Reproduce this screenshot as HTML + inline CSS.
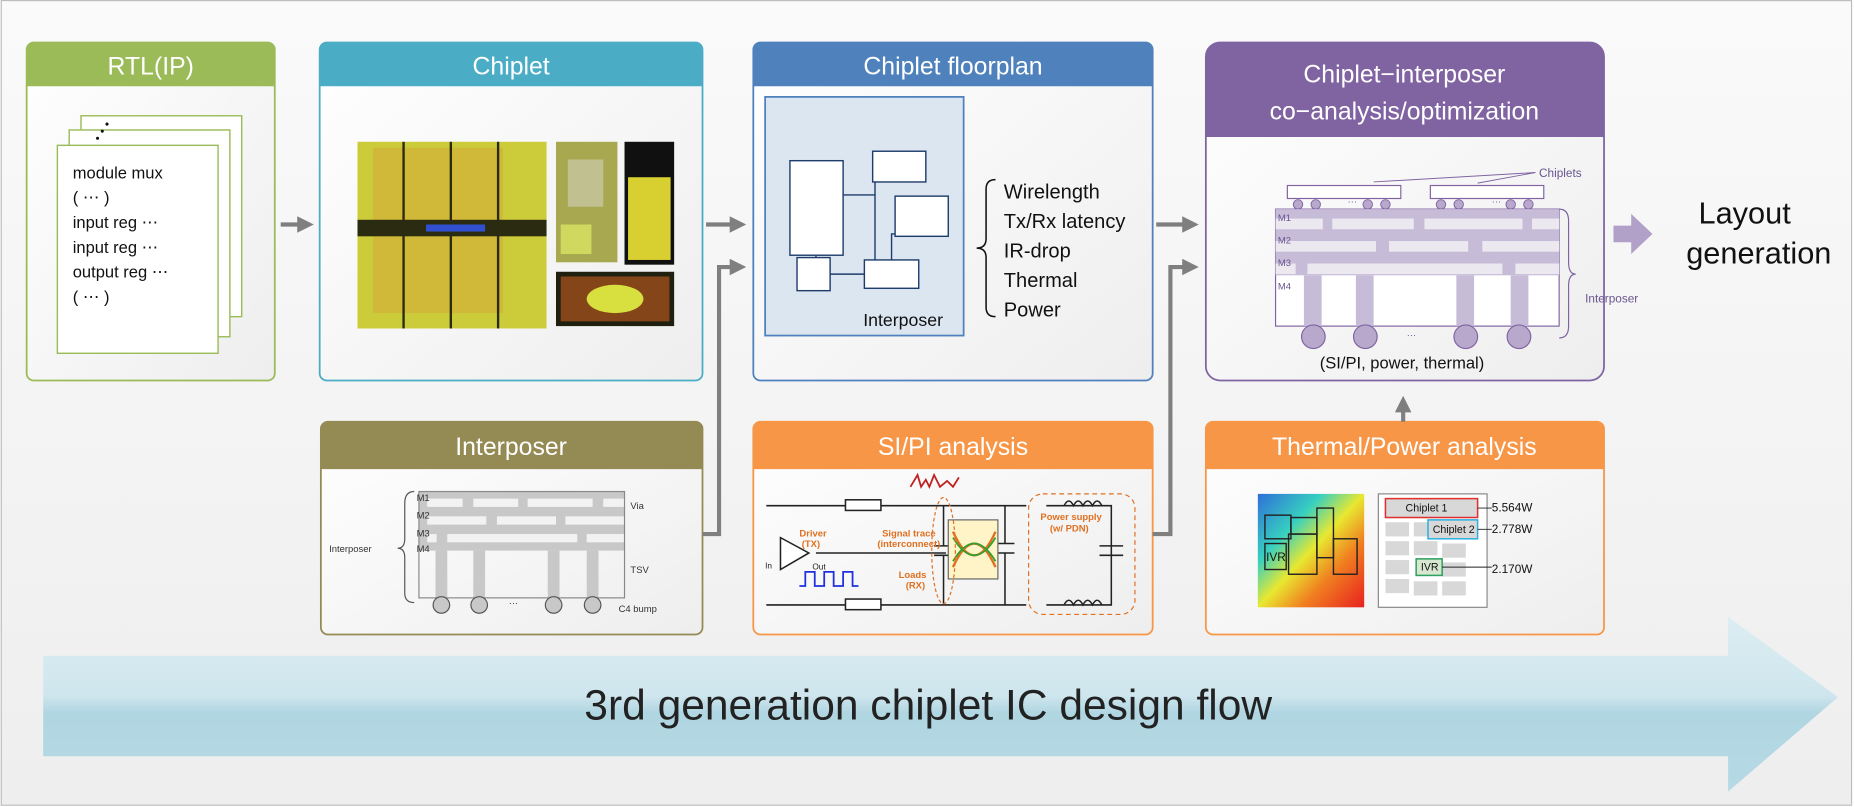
<!DOCTYPE html>
<html><head><meta charset="utf-8"><style>
html,body{margin:0;padding:0;background:#fff;}
svg{display:block;font-family:"Liberation Sans",sans-serif;}
</style></head><body>
<svg width="1854" height="807" viewBox="0 0 1568 683" xmlns="http://www.w3.org/2000/svg">
<defs>
<linearGradient id="bg" x1="0" y1="0" x2="0" y2="1"><stop offset="0" stop-color="#fafafa"/><stop offset="1" stop-color="#eeeeee"/></linearGradient>
<linearGradient id="box" x1="0" y1="0" x2="1" y2="1"><stop offset="0" stop-color="#ffffff"/><stop offset="1" stop-color="#eeeeee"/></linearGradient>
<linearGradient id="flow" x1="0" y1="0" x2="0" y2="1"><stop offset="0" stop-color="#dcedf2"/><stop offset="0.45" stop-color="#cfe6ee"/><stop offset="0.55" stop-color="#b0d6e2"/><stop offset="1" stop-color="#b6dae5"/></linearGradient>
<linearGradient id="heat" x1="0" y1="0" x2="1" y2="1"><stop offset="0" stop-color="#2f6fd8"/><stop offset="0.3" stop-color="#37d0c0"/><stop offset="0.5" stop-color="#e8e830"/><stop offset="0.7" stop-color="#f08020"/><stop offset="1" stop-color="#e82020"/></linearGradient>
<marker id="ah" markerWidth="4" markerHeight="4" refX="2" refY="2" orient="auto"><path d="M0,0 L4,2 L0,4z" fill="#7f7f7f"/></marker>
</defs>
<rect x="0.5" y="0.5" width="1566" height="681" fill="url(#bg)" stroke="#bdbdbd"/>

<!-- flow arrow -->
<path d="M36,555 H1462 V522 L1555,590 L1462,670 V640 H36z" fill="url(#flow)"/>
<text x="785" y="609" font-size="36" text-anchor="middle" fill="#222">3rd generation chiplet IC design flow</text>

<!-- boxes -->
<g stroke-width="1.5">
<rect x="22" y="36" width="210" height="286" rx="6" fill="url(#box)" stroke="#9bbb59"/>
<path d="M22,73 V42 a6,6 0 0 1 6,-6 H226 a6,6 0 0 1 6,6 V73z" fill="#9bbb59"/>
<rect x="270" y="36" width="324" height="286" rx="6" fill="url(#box)" stroke="#4bacc6"/>
<path d="M270,73 V42 a6,6 0 0 1 6,-6 H588 a6,6 0 0 1 6,6 V73z" fill="#4bacc6"/>
<rect x="637" y="36" width="338" height="286" rx="6" fill="url(#box)" stroke="#4f81bd"/>
<path d="M637,73 V42 a6,6 0 0 1 6,-6 H969 a6,6 0 0 1 6,6 V73z" fill="#4f81bd"/>
<rect x="1020" y="36" width="337" height="286" rx="12" fill="url(#box)" stroke="#8064a2"/>
<path d="M1020,116 V48 a12,12 0 0 1 12,-12 H1345 a12,12 0 0 1 12,12 V116z" fill="#8064a2"/>
<rect x="271" y="357" width="323" height="180" rx="6" fill="url(#box)" stroke="#948a54"/>
<path d="M271,397 V363 a6,6 0 0 1 6,-6 H588 a6,6 0 0 1 6,6 V397z" fill="#948a54"/>
<rect x="637" y="357" width="338" height="180" rx="6" fill="url(#box)" stroke="#f79646"/>
<path d="M637,397 V363 a6,6 0 0 1 6,-6 H969 a6,6 0 0 1 6,6 V397z" fill="#f79646"/>
<rect x="1020" y="357" width="337" height="180" rx="6" fill="url(#box)" stroke="#f79646"/>
<path d="M1020,397 V363 a6,6 0 0 1 6,-6 H1351 a6,6 0 0 1 6,6 V397z" fill="#f79646"/>
</g>
<g fill="#fff" font-size="21" text-anchor="middle">
<text x="127" y="63">RTL(IP)</text>
<text x="432" y="63">Chiplet</text>
<text x="806" y="63">Chiplet floorplan</text>
<text x="1188" y="70">Chiplet−interposer</text>
<text x="1188" y="101">co−analysis/optimization</text>
<text x="432" y="385">Interposer</text>
<text x="806" y="385">SI/PI analysis</text>
<text x="1188" y="385">Thermal/Power analysis</text>
</g>

<!-- RTL pages -->
<g stroke="#9bbb59" stroke-width="1.2" fill="#fff">
<rect x="68" y="98" width="136" height="170"/>
<rect x="58" y="110" width="136" height="175"/>
<rect x="48" y="123" width="136" height="176"/>
</g>
<g fill="#111" font-size="14">
<text x="61" y="151">module mux</text><text x="61" y="172">( ⋯ )</text><text x="61" y="193">input reg ⋯</text><text x="61" y="214">input reg ⋯</text><text x="61" y="235">output reg ⋯</text><text x="61" y="256">( ⋯ )</text>
<circle cx="82" cy="117" r="1.3"/><circle cx="86" cy="111" r="1.3"/><circle cx="90" cy="105" r="1.3"/>
</g>

<!-- chiplet die photos -->
<rect x="302" y="120" width="160" height="158" fill="#cccc3a"/>
<rect x="315" y="125" width="110" height="140" fill="#e07030" opacity="0.2"/>
<g fill="#2b2b12"><rect x="302" y="186" width="160" height="14"/><rect x="340" y="120" width="2" height="158"/><rect x="380" y="120" width="2" height="158"/><rect x="420" y="120" width="2" height="158"/></g>
<rect x="360" y="190" width="50" height="6" fill="#3050d0"/>
<rect x="470" y="120" width="52" height="102" fill="#a8a850"/>
<rect x="480" y="135" width="30" height="40" fill="#c0c090"/>
<rect x="474" y="190" width="26" height="25" fill="#d0d860"/>
<rect x="528" y="120" width="42" height="104" fill="#101010"/>
<rect x="531" y="150" width="36" height="70" fill="#d8d030"/>
<rect x="470" y="230" width="100" height="46" fill="#202010"/>
<rect x="474" y="234" width="92" height="38" fill="#c86020" opacity="0.6"/>
<ellipse cx="520" cy="253" rx="24" ry="12" fill="#d8e040"/>

<!-- floorplan -->
<rect x="647" y="82" width="168" height="202" fill="#dce6f1" stroke="#4f81bd" stroke-width="1.5"/>
<g fill="#fff" stroke="#1f3d6b" stroke-width="1.2">
<rect x="668" y="136" width="45" height="80"/><rect x="738" y="128" width="45" height="26"/><rect x="757" y="166" width="45" height="34"/><rect x="674" y="218" width="28" height="28"/><rect x="731" y="220" width="46" height="24"/>
</g>
<g stroke="#1f3d6b" stroke-width="1.2" fill="none">
<path d="M713,165 H740 V154 M740,165 V220 M754,220 V198 H757 M690,216 V218 M702,232 H731"/>
</g>
<text x="730" y="276" font-size="15" fill="#111">Interposer</text>
<path d="M842,152 q-8,0 -8,8 v42 q0,8 -8,8 q8,0 8,8 v42 q0,8 8,8" fill="none" stroke="#111" stroke-width="1.3"/>
<g font-size="17" fill="#111"><text x="849" y="168">Wirelength</text><text x="849" y="193">Tx/Rx latency</text><text x="849" y="218">IR-drop</text><text x="849" y="243">Thermal</text><text x="849" y="268">Power</text></g>

<!-- co-analysis -->
<g stroke="#8064a2" stroke-width="1" fill="#fff"><rect x="1089" y="157" width="96" height="11"/><rect x="1210" y="157" width="96" height="11"/></g>
<g fill="#b8a8cc" stroke="#8064a2" stroke-width="0.8"><circle cx="1098" cy="173" r="4"/><circle cx="1113" cy="173" r="4"/><circle cx="1157" cy="173" r="4"/><circle cx="1172" cy="173" r="4"/><circle cx="1219" cy="173" r="4"/><circle cx="1234" cy="173" r="4"/><circle cx="1278" cy="173" r="4"/><circle cx="1293" cy="173" r="4"/></g>
<rect x="1079" y="177" width="240" height="99" fill="#fff" stroke="#8064a2"/>
<rect x="1079" y="177" width="240" height="56" fill="#c7bcd8"/>
<g fill="#ece8f0"><rect x="1079" y="185" width="40" height="9"/><rect x="1127" y="185" width="69" height="9"/><rect x="1205" y="185" width="83" height="9"/><rect x="1296" y="185" width="23" height="9"/><rect x="1079" y="204" width="85" height="9"/><rect x="1175" y="204" width="67" height="9"/><rect x="1254" y="204" width="65" height="9"/><rect x="1079" y="223" width="17" height="9"/><rect x="1106" y="223" width="165" height="9"/><rect x="1282" y="223" width="37" height="9"/></g>
<g fill="#c7bcd8"><rect x="1103" y="233" width="15" height="43"/><rect x="1147" y="233" width="15" height="43"/><rect x="1232" y="233" width="15" height="43"/><rect x="1278" y="233" width="15" height="43"/></g>
<g fill="#b8a8cc" stroke="#8064a2"><circle cx="1111" cy="285" r="10"/><circle cx="1155" cy="285" r="10"/><circle cx="1240" cy="285" r="10"/><circle cx="1285" cy="285" r="10"/></g>
<g font-size="8" fill="#6a5590"><text x="1081" y="187">M1</text><text x="1081" y="206">M2</text><text x="1081" y="225">M3</text><text x="1081" y="245">M4</text><text x="1190" y="286">···</text><text x="1140" y="173">···</text><text x="1262" y="173">···</text></g>
<text x="1302" y="150" font-size="10" fill="#6a5590">Chiplets</text>
<path d="M1299,146 L1162,154 M1299,146 L1250,155" stroke="#8064a2" stroke-width="0.8"/>
<path d="M1319,177 q8,0 8,10 v35 q0,10 6,10 q-6,0 -6,10 v34 q0,10 -8,10" fill="none" stroke="#8064a2"/>
<text x="1341" y="256" font-size="10" fill="#6a5590">Interposer</text>
<text x="1186" y="312" font-size="14" fill="#111" text-anchor="middle">(SI/PI, power, thermal)</text>

<!-- interposer diagram -->
<rect x="354" y="416" width="174" height="50" fill="#c8c8c8"/>
<g fill="#f2f2f2"><rect x="361" y="422" width="30" height="7"/><rect x="400" y="422" width="38" height="7"/><rect x="446" y="422" width="55" height="7"/><rect x="510" y="422" width="18" height="7"/><rect x="361" y="437" width="50" height="7"/><rect x="420" y="437" width="50" height="7"/><rect x="478" y="437" width="50" height="7"/><rect x="361" y="452" width="8" height="7"/><rect x="378" y="452" width="110" height="7"/><rect x="496" y="452" width="32" height="7"/></g>
<g fill="#c8c8c8"><rect x="368" y="466" width="10" height="40"/><rect x="400" y="466" width="10" height="40"/><rect x="463" y="466" width="10" height="40"/><rect x="496" y="466" width="10" height="40"/></g>
<rect x="354" y="416" width="174" height="90" fill="none" stroke="#888"/>
<g fill="#c8c8c8" stroke="#555"><circle cx="373" cy="512" r="7"/><circle cx="405" cy="512" r="7"/><circle cx="468" cy="512" r="7"/><circle cx="501" cy="512" r="7"/></g>
<g font-size="8" fill="#333"><text x="352" y="424">M1</text><text x="352" y="439">M2</text><text x="352" y="454">M3</text><text x="352" y="467">M4</text><text x="533" y="431">Via</text><text x="533" y="485">TSV</text><text x="523" y="518">C4 bump</text><text x="430" y="513">···</text><text x="278" y="467">Interposer</text></g>
<path d="M350,416 q-8,0 -8,10 v30 q0,8 -6,8 q6,0 6,8 v30 q0,8 8,8" fill="none" stroke="#555"/>

<!-- SI/PI -->
<g stroke="#222" stroke-width="1.3" fill="none">
<path d="M648,428 H868 M648,512 H868 M690,468 H800 M885,428 H940 V512 H885"/>
<path d="M660,455 L660,482 L684,468z" fill="#fff"/>
<rect x="715" y="423" width="30" height="9" fill="#fff"/><rect x="715" y="507" width="30" height="9" fill="#fff"/>
<path d="M798,428 V462 M790,462 H806 M790,470 H806 M798,470 V512 M930,462 H950 M930,470 H950 M850,428 V460 M842,460 H858 M842,468 H858 M850,468 V512"/>
<path d="M900,428 q4,-8 8,0 q4,-8 8,0 q4,-8 8,0 q4,-8 8,0 M900,512 q4,-8 8,0 q4,-8 8,0 q4,-8 8,0 q4,-8 8,0"/>
</g>
<path d="M676,496 h5 v-12 h8 v12 h8 v-12 h8 v12 h8 v-12 h8 v12 h5" fill="none" stroke="#2030e0" stroke-width="1.5"/>
<rect x="802" y="440" width="42" height="50" fill="#fff3c8" stroke="#666"/>
<path d="M806,450 q18,40 36,0 M806,480 q18,-40 36,0" stroke="#e07020" stroke-width="2" fill="none"/>
<path d="M806,455 q18,30 36,0 M806,475 q18,-30 36,0" stroke="#30a030" stroke-width="1.5" fill="none"/>
<ellipse cx="798" cy="466" rx="10" ry="45" fill="none" stroke="#e07020" stroke-dasharray="3,2"/>
<rect x="870" y="418" width="90" height="102" rx="12" fill="none" stroke="#e07020" stroke-dasharray="4,3"/>
<path d="M770,412 l6,-10 l3,10 l4,-6 l3,6 l4,-10 l5,10 l6,-5 l5,5 l5,-8" stroke="#c02020" stroke-width="1.5" fill="none"/>
<g font-size="8" fill="#e07020" font-weight="bold"><text x="676" y="454">Driver</text><text x="678" y="463">(TX)</text><text x="746" y="454">Signal trace</text><text x="742" y="463">(interconnect)</text><text x="760" y="489">Loads</text><text x="766" y="498">(RX)</text><text x="880" y="440">Power supply</text><text x="888" y="450">(w/ PDN)</text></g>
<g font-size="7" fill="#222"><text x="687" y="482">Out</text><text x="647" y="481">In</text></g>

<!-- thermal -->
<rect x="1064" y="418" width="90" height="96" fill="url(#heat)"/>
<g fill="none" stroke="#222" stroke-width="1.2"><rect x="1070" y="436" width="22" height="20"/><rect x="1092" y="438" width="22" height="14"/><rect x="1090" y="452" width="24" height="34"/><rect x="1114" y="430" width="14" height="42"/><rect x="1070" y="460" width="18" height="22"/><rect x="1128" y="456" width="20" height="30"/></g>
<text x="1071" y="475" font-size="10" fill="#111">IVR</text>
<rect x="1166" y="418" width="92" height="96" fill="#fff" stroke="#888"/>
<g fill="#d8d8d8"><rect x="1172" y="442" width="20" height="12"/><rect x="1196" y="442" width="14" height="12"/><rect x="1172" y="458" width="20" height="12"/><rect x="1196" y="458" width="20" height="12"/><rect x="1220" y="460" width="20" height="12"/><rect x="1172" y="474" width="20" height="12"/><rect x="1172" y="490" width="20" height="12"/><rect x="1220" y="476" width="20" height="12"/><rect x="1220" y="492" width="20" height="12"/><rect x="1196" y="492" width="20" height="12"/></g>
<rect x="1172" y="422" width="78" height="16" fill="#d8d8d8" stroke="#e03030" stroke-width="1.3"/>
<rect x="1208" y="440" width="42" height="16" fill="#d8d8d8" stroke="#30b0e0" stroke-width="1.3"/>
<rect x="1198" y="473" width="22" height="14" fill="#d8e8d0" stroke="#30a060" stroke-width="1.3"/>
<g font-size="9" fill="#111"><text x="1189" y="433">Chiplet 1</text><text x="1212" y="451">Chiplet 2</text><text x="1202" y="483">IVR</text></g>
<g font-size="10" fill="#111"><text x="1262" y="433">5.564W</text><text x="1262" y="451">2.778W</text><text x="1262" y="485">2.170W</text></g>
<g stroke="#222" stroke-width="0.8"><path d="M1250,430 H1262 M1250,448 H1262 M1220,480 H1262"/></g>

<!-- connectors -->
<g stroke="#7f7f7f" stroke-width="3.5" fill="none" marker-end="url(#ah)">
<path d="M237,190 H258"/>
<path d="M597,190 H624"/>
<path d="M594,452 H608 V226 H624"/>
<path d="M978,190 H1007"/>
<path d="M975,452 H990 V226 H1007"/>
<path d="M1187,357 V342"/>
</g>
<path d="M1365,191 H1380 V181 L1398,198 L1380,215 V205 H1365z" fill="#b1a0c7"/>
<g font-size="26" fill="#111" text-anchor="middle"><text x="1476" y="189">Layout</text><text x="1488" y="223">generation</text></g>
</svg>
</body></html>
